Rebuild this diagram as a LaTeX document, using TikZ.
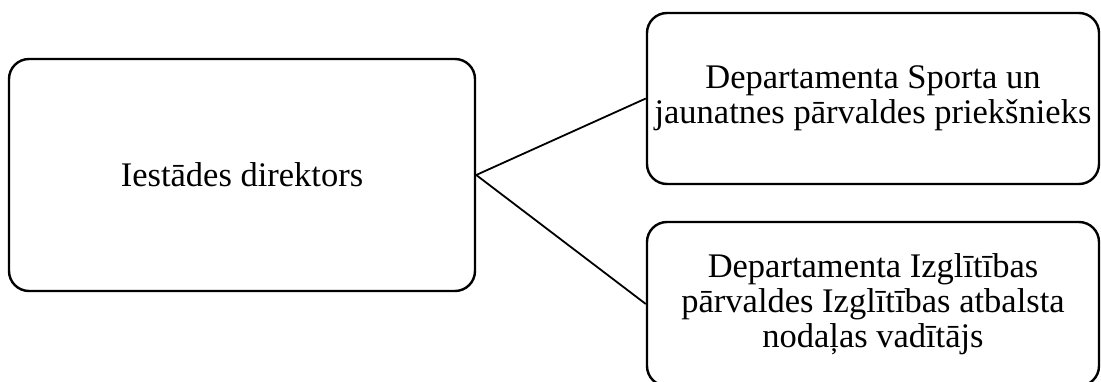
\documentclass[tikz,border=0pt]{standalone}
\usepackage{fontspec}
\setmainfont{Liberation Serif}

\begin{document}
\begin{tikzpicture}[x=1pt,y=1pt,
    orgbox/.style={draw, line width=2.4pt, rounded corners=20pt, inner sep=0pt,
                   align=center, font=\fontsize{34.5}{35}\selectfont},
    link/.style={line width=1.8pt}]
            \useasboundingbox (0,0) rectangle (1101,381);
            \clip (0,0) rectangle (1101,381);

            % Left box
            \node[orgbox, minimum width=466pt, minimum height=232pt] (director) at (242,206) {Iestādes direktors};

            % Right boxes
            \node[orgbox, minimum width=452pt, minimum height=171pt] (sport) at (873,282.5)
                {Departamenta Sporta un\\jaunatnes pārvaldes priekšnieks};
            \node[orgbox, minimum width=452pt, minimum height=164pt] (educ) at (873,77)
                {Departamenta Izglītības\\pārvaldes Izglītības atbalsta\\nodaļas vadītājs};

            % Connectors
            \draw[link] (director.east) -- (sport.west);
            \draw[link] (director.east) -- (educ.west);
        \end{tikzpicture}
\end{document}
